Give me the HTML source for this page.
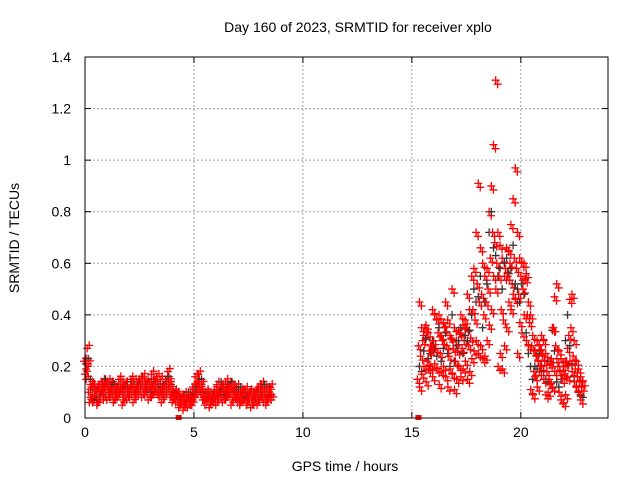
<!DOCTYPE html>
<html><head><meta charset="utf-8"><style>
body{margin:0;background:#fff;}
svg text{font-family:"Liberation Sans",sans-serif;font-size:14px;fill:#000;}
</style></head><body>
<svg id="chart" width="640" height="480">
<text x="358" y="32" text-anchor="middle">Day 160 of 2023, SRMTID for receiver xplo</text>
<text x="345" y="471" text-anchor="middle">GPS time / hours</text>
<text transform="translate(19,238) rotate(-90)" text-anchor="middle">SRMTID / TECUs</text>
<g id="grid"></g><g id="ticks"></g><g id="pts"></g>
<rect x="85" y="57" width="523" height="361" fill="none" stroke="#000" stroke-width="1"/>
</svg>
<script>
const xTicks=[0,5,10,15,20];
const yTicks=[0,0.2,0.4,0.6,0.8,1,1.2,1.4];
const yTickLabels=["0","0.2","0.4","0.6","0.8","1","1.2","1.4"];
const seg1T=[0,0.1,0.2,0.3,0.4,0.5,0.6,0.7,0.8,0.9,1,1.1,1.2,1.3,1.4,1.5,1.6,1.7,1.8,1.9,2,2.1,2.2,2.3,2.4,2.5,2.6,2.7,2.8,2.9,3,3.1,3.2,3.3,3.4,3.5,3.6,3.7,3.8,3.9,4,4.1,4.2,4.3,4.4,4.5,4.6,4.7,4.8,4.9,5,5.1,5.2,5.3,5.4,5.5,5.6,5.7,5.8,5.9,6,6.1,6.2,6.3,6.4,6.5,6.6,6.7,6.8,6.9,7,7.1,7.2,7.3,7.4,7.5,7.6,7.7,7.8,7.9,8,8.1,8.2,8.3,8.4,8.5];
const seg1A=[0.22,0.15,0.10,0.08,0.12,0.09,0.11,0.13,0.10,0.08,0.12,0.14,0.10,0.09,0.07,0.12,0.15,0.11,0.09,0.13,0.10,0.08,0.12,0.14,0.11,0.09,0.13,0.16,0.12,0.10,0.14,0.17,0.13,0.10,0.12,0.15,0.11,0.08,0.10,0.13,0.09,0.07,0.06,0.08,0.05,0.07,0.09,0.06,0.08,0.10,0.12,0.16,0.14,0.11,0.09,0.07,0.10,0.08,0.06,0.09,0.11,0.13,0.10,0.08,0.12,0.14,0.11,0.09,0.07,0.10,0.12,0.08,0.06,0.09,0.11,0.07,0.10,0.08,0.06,0.09,0.12,0.10,0.08,0.11,0.09,0.08];
const seg1B=[0.17,0.27,0.06,0.12,0.07,0.11,0.06,0.09,0.14,0.12,0.07,0.10,0.13,0.06,0.11,0.08,0.10,0.05,0.13,0.07,0.11,0.15,0.06,0.10,0.13,0.15,0.08,0.10,0.14,0.07,0.11,0.09,0.15,0.16,0.08,0.06,0.13,0.15,0.18,0.08,0.06,0.10,0.09,0.04,0.08,0.03,0.06,0.04,0.07,0.05,0.09,0.13,0.17,0.10,0.07,0.05,0.07,0.04,0.08,0.06,0.05,0.09,0.11,0.06,0.10,0.08,0.13,0.05,0.11,0.08,0.06,0.05,0.10,0.07,0.05,0.09,0.04,0.07,0.10,0.05,0.07,0.13,0.06,0.05,0.08,0.12];
const seg1C=[0.19,0.21,0.13,0.06,0.09,0.05,0.09,0.11,0.07,0.13,0.11,0.08,0.12,0.11,0.09,0.10,0.13,0.07,0.11,0.10,0.09,0.12,0.10,0.08,0.12,0.11,0.14,0.09,0.11,0.12,0.08,0.13,0.12,0.09,0.11,0.10,0.09,0.12,0.14,0.11,0.08,0.08,0.07,0.06,0.06,0.05,0.07,0.08,0.05,0.07,0.08,0.10,0.12,0.13,0.08,0.08,0.09,0.06,0.07,0.08,0.09,0.07,0.12,0.09,0.07,0.11,0.10,0.12,0.09,0.08,0.09,0.10,0.07,0.08,0.06,0.08,0.09,0.05,0.08,0.07,0.10,0.09,0.11,0.07,0.10,0.07];
const seg2T=[15.3,15.4,15.5,15.6,15.7,15.8,15.9,16,16.1,16.2,16.3,16.4,16.5,16.6,16.7,16.8,16.9,17,17.1,17.2,17.3,17.4,17.5,17.6,17.7,17.8,17.9,18,18.1,18.2,18.3,18.4,18.5,18.6,18.7,18.8,18.9,19,19.1,19.2,19.3,19.4,19.5,19.6,19.7,19.8,19.9,20,20.1,20.2,20.3,20.4,20.5,20.6,20.7,20.8,20.9,21,21.1,21.2,21.3,21.4,21.5,21.6,21.7,21.8,21.9,22,22.1,22.2,22.3,22.4,22.5,22.6,22.7,22.8];
const seg2Lo=[0.15,0.12,0.17,0.20,0.14,0.19,0.20,0.16,0.21,0.19,0.13,0.18,0.20,0.16,0.12,0.19,0.17,0.11,0.15,0.20,0.16,0.19,0.22,0.15,0.18,0.23,0.26,0.30,0.25,0.28,0.23,0.24,0.30,0.36,0.42,0.55,0.50,0.20,0.25,0.19,0.28,0.35,0.45,0.42,0.48,0.46,0.25,0.37,0.33,0.40,0.30,0.28,0.11,0.09,0.16,0.12,0.18,0.20,0.15,0.09,0.10,0.13,0.12,0.18,0.23,0.10,0.07,0.06,0.09,0.16,0.22,0.18,0.14,0.12,0.10,0.07];
const seg2Mid=[0.28,0.24,0.30,0.35,0.22,0.26,0.28,0.30,0.27,0.33,0.25,0.30,0.35,0.28,0.24,0.31,0.27,0.22,0.26,0.33,0.27,0.30,0.35,0.28,0.31,0.42,0.38,0.52,0.45,0.48,0.40,0.45,0.50,0.62,0.72,0.68,0.60,0.55,0.42,0.38,0.58,0.55,0.60,0.52,0.62,0.58,0.48,0.55,0.50,0.54,0.40,0.37,0.28,0.18,0.24,0.22,0.26,0.24,0.22,0.18,0.15,0.23,0.35,0.28,0.20,0.18,0.15,0.17,0.22,0.32,0.35,0.24,0.19,0.16,0.14,0.12];
const seg2Hi=[0.45,0.35,0.32,0.36,0.33,0.28,0.42,0.40,0.38,0.40,0.32,0.37,0.45,0.38,0.32,0.50,0.35,0.30,0.34,0.40,0.36,0.38,0.48,0.42,0.55,0.58,0.72,0.91,0.66,0.60,0.55,0.58,0.80,0.90,1.06,1.31,0.72,0.67,0.62,0.55,0.66,0.65,0.75,0.85,0.97,0.72,0.62,0.60,0.60,0.56,0.45,0.40,0.32,0.26,0.30,0.28,0.32,0.30,0.25,0.22,0.21,0.35,0.47,0.52,0.26,0.23,0.20,0.22,0.27,0.46,0.48,0.30,0.22,0.19,0.16,0.14];
const seg2Blk=[0.20,0.18,0.26,0.31,0.23,0.25,0.30,0.27,0.24,0.35,0.22,0.27,0.33,0.25,0.20,0.40,0.22,0.28,0.30,0.35,0.25,0.32,0.30,0.34,0.40,0.50,0.45,0.47,0.55,0.35,0.45,0.52,0.72,0.80,0.66,0.63,0.55,0.58,0.50,0.60,0.62,0.56,0.58,0.67,0.52,0.50,0.45,0.52,0.48,0.33,0.25,0.20,0.15,0.20,0.19,0.25,0.20,0.18,0.15,0.14,0.22,0.34,0.26,0.14,0.12,0.15,0.20,0.30,0.40,0.28,0.21,0.16,0.12,0.10,0.09,0.08];
const zeroT=[4.3,15.3];
const NS="http://www.w3.org/2000/svg";
const X=t=>85+t*(523/24), Y=v=>418-v*(361/1.4);
const grid=document.getElementById('grid'),ticks=document.getElementById('ticks'),pts=document.getElementById('pts');
function mk(tag,attrs,parent){const e=document.createElementNS(NS,tag);for(const k in attrs)e.setAttribute(k,attrs[k]);parent.appendChild(e);return e;}
xTicks.forEach(t=>{
 if(t>0){const l=mk('line',{x1:X(t),x2:X(t),y1:57,y2:418,stroke:'#a0a0a0','stroke-dasharray':'2,2'},grid);
 
 }
 const tx=mk('text',{x:X(t),y:437,'text-anchor':'middle'},ticks);tx.textContent=t;
 
 
 mk('line',{x1:X(t),x2:X(t),y1:418,y2:412,stroke:'#000'},ticks);
 mk('line',{x1:X(t),x2:X(t),y1:57,y2:63,stroke:'#000'},ticks);
});
yTicks.forEach((v,i)=>{
 if(v>0&&v<1.4){const l=mk('line',{x1:85,x2:608,y1:Y(v),y2:Y(v),stroke:'#a0a0a0','stroke-dasharray':'2,2'},grid);
 
 }
 const tx=mk('text',{x:71,y:Y(v)+5,'text-anchor':'end'},ticks);tx.textContent=yTickLabels[i];
 
 
 mk('line',{x1:85,x2:91,y1:Y(v),y2:Y(v),stroke:'#000'},ticks);
 mk('line',{x1:608,x2:602,y1:Y(v),y2:Y(v),stroke:'#000'},ticks);
});
function plus(t,v,c,dx,dy){const x=X(t)+dx,y=Y(v)+dy;
 const p=mk('path',{d:`M${x-4},${y}H${x+4}M${x},${y-4}V${y+4}`,stroke:c,'stroke-width':1.3,fill:'none'},pts);
 
 }
seg1T.forEach((t,i)=>{
 if(seg1C[i]!==undefined)plus(t,seg1C[i]+0.02,'#333',1,0);
 [seg1A,seg1B,seg1C].forEach((a,k)=>{if(a[i]!==undefined){plus(t,a[i],'#f00',k-1,0);plus(t,a[i],'#f00',k+1,-3);}});
});
seg2T.forEach((t,i)=>{
 if(seg2Blk[i]!==undefined)plus(t,seg2Blk[i],'#333',1,0);
 [seg2Lo,seg2Mid,seg2Hi].forEach((a,k)=>{if(a[i]!==undefined){plus(t,a[i],'#f00',k-1,0);plus(t,a[i],'#f00',k+1,4);}});
});
zeroT.forEach(t=>{const r=mk('rect',{x:X(t)-3,y:415,width:6,height:5,fill:'#f00'},pts);
 
 });
</script>
</body></html>
